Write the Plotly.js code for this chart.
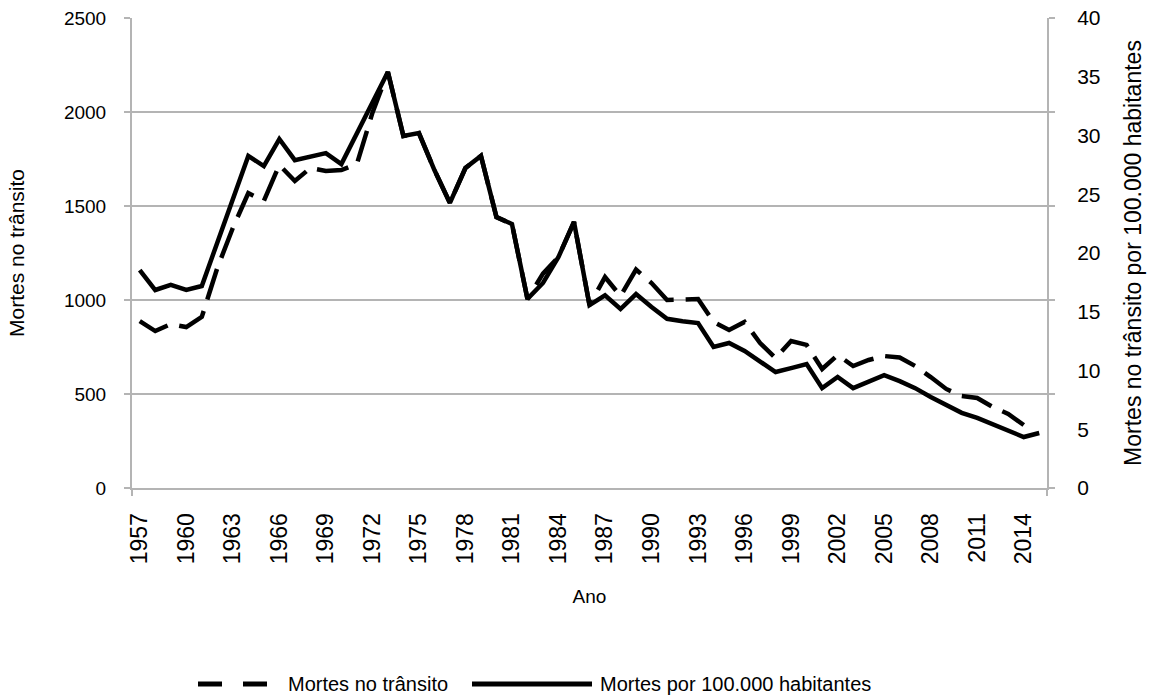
<!DOCTYPE html>
<html><head><meta charset="utf-8">
<script src="https://cdn.plot.ly/plotly-3.0.1.min.js"></script>
<style>html,body{margin:0;padding:0;background:#fff}#chart{width:1150px;height:695px}</style>
</head><body><div id="chart"></div>
<script>
const years = [1957,1958,1959,1960,1961,1962,1963,1964,1965,1966,1967,1968,1969,1970,1971,1972,1973,1974,1975,1976,1977,1978,1979,1980,1981,1982,1983,1984,1985,1986,1987,1988,1989,1990,1991,1992,1993,1994,1995,1996,1997,1998,1999,2000,2001,2002,2003,2004,2005,2006,2007,2008,2009,2010,2011,2012,2013,2014,2015];
const deaths = [888,835,872,856,910,1170,1383,1569,1527,1718,1633,1702,1686,1691,1723,1995,2213,1872,1888,1691,1516,1702,1766,1441,1404,1005,1140,1229,1415,973,1122,1021,1162,1090,1000,1000,1005,883,840,883,771,691,782,761,633,707,649,681,702,694,649,590,527,489,479,431,394,335,null];
const ratePer100k = [18.55,16.85,17.28,16.85,17.19,20.85,24.5,28.26,27.4,29.7,27.9,28.17,28.5,27.57,30.2,32.8,35.4,29.96,30.2,27.06,24.26,27.23,28.26,23.06,22.47,16.09,17.45,19.66,22.64,15.57,16.4,15.23,16.5,15.4,14.4,14.2,14.04,12.0,12.34,11.66,10.72,9.87,10.2,10.55,8.5,9.45,8.5,9.0,9.6,9.1,8.5,7.74,7.06,6.4,5.96,5.45,4.94,4.34,4.68];
const xTickYears = [1957,1960,1963,1966,1969,1972,1975,1978,1981,1984,1987,1990,1993,1996,1999,2002,2005,2008,2011,2014];
const leftTicks = [0,500,1000,1500,2000,2500];
const rightTicks = [0,5,10,15,20,25,30,35,40];
const seriesNames = ['Mortes no trânsito','Mortes por 100.000 habitantes'];

const FONT = 'Liberation Sans, Arial, sans-serif';
const GRID = '#b4b4b4';
const TXT = '#000000';

const W = 1150, H = 695, L = 132, R = 103, T = 18, B = 207;
const pw = W - L - R, ph = H - T - B;
const px = x => (x - L) / pw;
const py = y => (H - B - y) / ph;

const traces = [
  {x: years, y: deaths, name: seriesNames[0], type: 'scatter', mode: 'lines',
   line: {color: '#000', width: 4.5, dash: '32px,12px'}, yaxis: 'y', showlegend: false},
  {x: years, y: ratePer100k, name: seriesNames[1], type: 'scatter', mode: 'lines',
   line: {color: '#000', width: 4.5}, yaxis: 'y2', showlegend: false}
];

const legY = 684;
const layout = {
  width: W, height: H,
  margin: {l: L, r: R, t: T, b: B},
  paper_bgcolor: '#fff', plot_bgcolor: '#fff',
  font: {family: FONT, color: TXT, size: 20},
  xaxis: {
    range: [1956.5, 2015.5], tickvals: xTickYears, ticktext: xTickYears.map(String),
    tickangle: -90, tickfont: {size: 23, color: TXT},
    ticks: 'outside', ticklen: 14, tickcolor: 'rgba(0,0,0,0)', tickwidth: 1,
    showgrid: false, zeroline: false, showline: true, linecolor: GRID, linewidth: 2,
    minor: {tickvals: [1956.5, 2015.5], ticks: 'outside', ticklen: 6, tickcolor: GRID, tickwidth: 2, showgrid: false},
    title: {text: 'Ano', font: {size: 19, color: TXT}, standoff: 26}
  },
  yaxis: {
    range: [0, 2500], tickvals: leftTicks, tickfont: {size: 19, color: TXT},
    showgrid: true, gridcolor: GRID, gridwidth: 2, zeroline: false,
    showline: true, linecolor: GRID, linewidth: 2,
    ticks: 'outside', ticklen: 6, tickcolor: GRID, tickwidth: 2, ticklabelstandoff: 14,
    title: {text: 'Mortes no trânsito', font: {size: 21, color: TXT}, standoff: 34}
  },
  yaxis2: {
    range: [0, 40], tickvals: rightTicks, overlaying: 'y', side: 'right',
    tickfont: {size: 21, color: TXT}, showgrid: false, zeroline: false,
    showline: true, linecolor: GRID, linewidth: 2, ticks: '', ticklabelstandoff: 24,
    minor: {tickvals: [0, 8, 16, 24, 32, 40], ticks: 'outside', ticklen: 6, tickcolor: GRID, tickwidth: 2, showgrid: false},
    title: {text: 'Mortes no trânsito por 100.000 habitantes', font: {size: 23, color: TXT}, standoff: 25}
  },
  shapes: [
    {type: 'line', xref: 'paper', yref: 'paper', x0: px(198), x1: px(267), y0: py(legY), y1: py(legY),
     line: {color: '#000', width: 5, dash: '24px,21px'}},
    {type: 'line', xref: 'paper', yref: 'paper', x0: px(472), x1: px(592), y0: py(legY), y1: py(legY),
     line: {color: '#000', width: 5}}
  ],
  annotations: [
    {xref: 'paper', yref: 'paper', x: px(286), y: py(legY), xanchor: 'left', yanchor: 'middle',
     text: seriesNames[0], showarrow: false, font: {size: 20, color: TXT}},
    {xref: 'paper', yref: 'paper', x: px(598), y: py(legY), xanchor: 'left', yanchor: 'middle',
     text: seriesNames[1], showarrow: false, font: {size: 20, color: TXT}}
  ]
};

Plotly.newPlot('chart', traces, layout, {displayModeBar: false, staticPlot: true});
</script>
</body></html>
